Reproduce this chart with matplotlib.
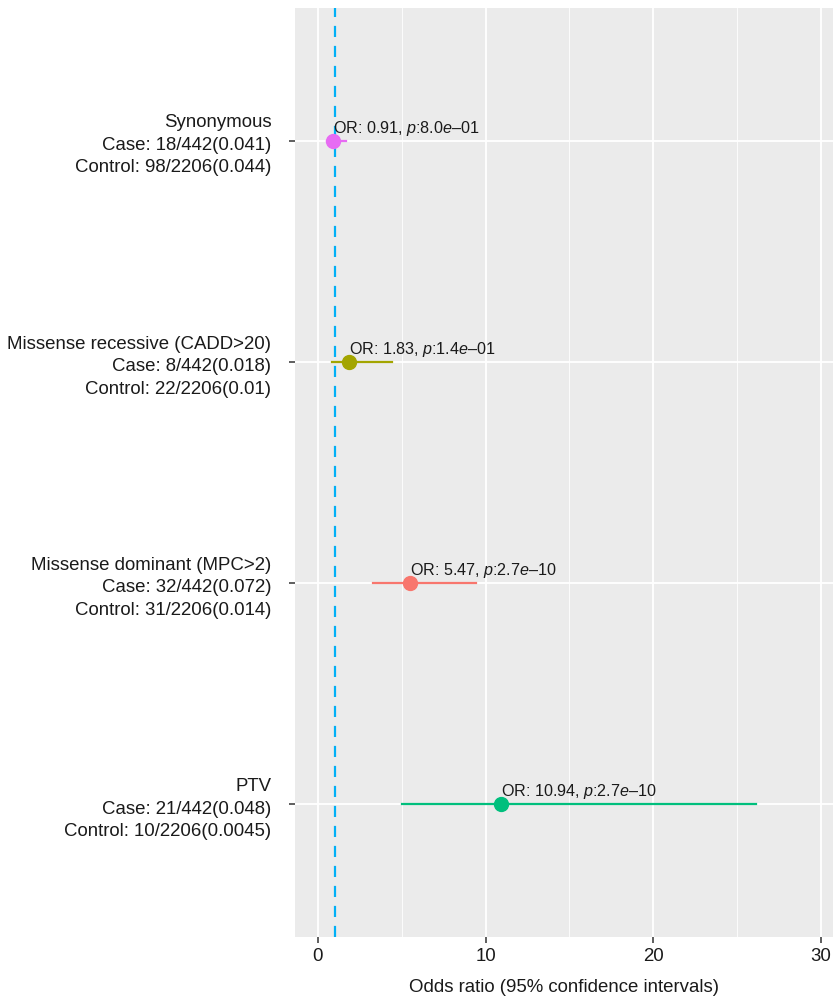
import matplotlib.pyplot as plt
import numpy as np

plt.rcParams['font.family'] = ['Liberation Sans', 'DejaVu Sans']
plt.rcParams['mathtext.fontset'] = 'custom'
plt.rcParams['mathtext.it'] = 'Liberation Sans:italic'
plt.rcParams['mathtext.rm'] = 'Liberation Sans'

# Variant classes, bottom to top
classes = ["PTV", "Missense dominant (MPC>2)", "Missense recessive (CADD>20)", "Synonymous"]
case_counts = ["21/442(0.048)", "32/442(0.072)", "8/442(0.018)", "18/442(0.041)"]
control_counts = ["10/2206(0.0045)", "31/2206(0.014)", "22/2206(0.01)", "98/2206(0.044)"]
odds_ratio = [10.94, 5.47, 1.83, 0.91]
ci_low = [5.0, 3.3, 0.83, 0.55]
ci_high = [26.1, 9.4, 4.4, 1.65]
p_mant = ["2.7", "2.7", "1.4", "8.0"]
p_exp = ["10", "10", "01", "01"]
colors = ["#00BF7D", "#F8766D", "#A3A500", "#E76BF3"]

fig = plt.figure(figsize=(8.33, 9.96), dpi=100)
ax = fig.add_axes([295/833, 59/996, 538/833, 929/996])
ax.set_facecolor("#EBEBEB")

ypos = np.arange(1, len(classes) + 1)

# grid: major and minor vertical lines, one horizontal line per class
for x in [0, 10, 20, 30]:
    ax.axvline(x, color="white", lw=1.3, zorder=0)
for x in [5, 15, 25]:
    ax.axvline(x, color="white", lw=0.6, zorder=0)
for y in ypos:
    ax.axhline(y, color="white", lw=1.3, zorder=0)

ax.axvline(1, color="#00B0F6", lw=1.6, ls=(0, (5, 4)), zorder=1)

for i, y in enumerate(ypos):
    ax.plot([ci_low[i], ci_high[i]], [y, y], color=colors[i], lw=1.6, zorder=2)
    ax.plot(odds_ratio[i], y, "o", color=colors[i], ms=10, zorder=3)
    label = "OR: %.2f, $p$:%s$e$\u2013%s" % (odds_ratio[i], p_mant[i], p_exp[i])
    ax.text(odds_ratio[i], y + 0.037, label, fontsize=11.6, ha="left", va="baseline",
            color="#1A1A1A", zorder=4)

ax.set_xlim(-1.37, 30.72)
ax.set_ylim(0.4, 4.6)
ax.set_xticks([0, 10, 20, 30])
ax.set_yticks(ypos)
ax.set_yticklabels(["%s\nCase: %s\nControl: %s" % (c, a, b)
                    for c, a, b in zip(classes, case_counts, control_counts)],
                   multialignment="right", linespacing=1.42)

ax.tick_params(axis="both", length=4, width=1.1, color="#333333", labelsize=13.4,
               labelcolor="#1A1A1A", pad=4)
ax.tick_params(axis="y", pad=13)
for s in ax.spines.values():
    s.set_visible(False)

ax.set_xlabel("Odds ratio (95% confidence intervals)", fontsize=13.4, color="#1A1A1A",
              labelpad=10)

fig.savefig("out.png", dpi=100)
